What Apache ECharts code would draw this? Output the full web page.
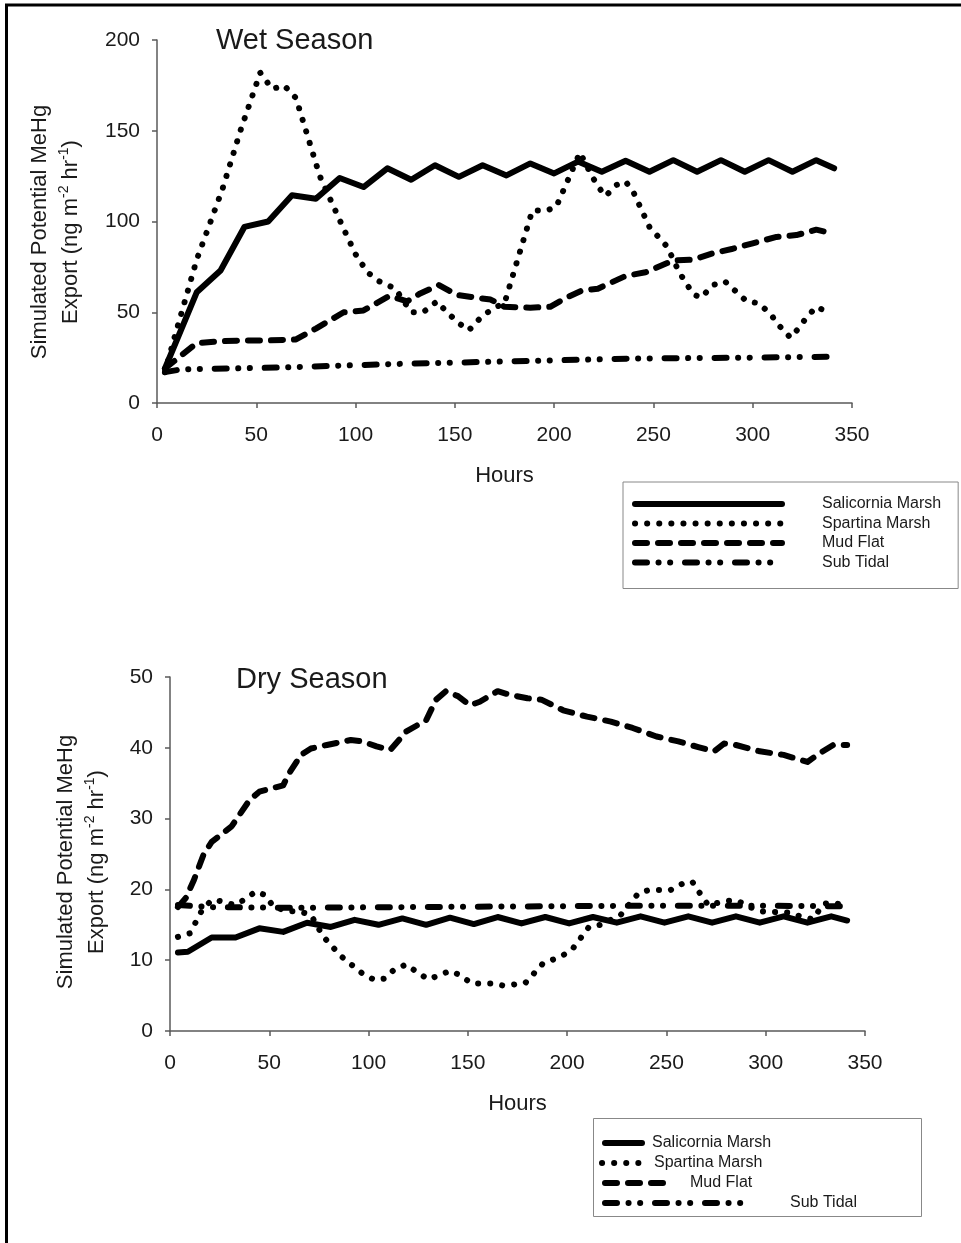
<!DOCTYPE html>
<html>
<head>
<meta charset="utf-8">
<title>Simulated Potential MeHg Export</title>
<script src="https://cdn.jsdelivr.net/npm/echarts@6/dist/echarts.min.js"></script>
<style>
  html, body { margin: 0; padding: 0; background: #fff; }
  #chart { width: 961px; height: 1243px; }
</style>
</head>
<body>
<div id="chart"></div>
<script>
// Series names shared by both panels
const seriesNames = ['Salicornia Marsh', 'Spartina Marsh', 'Mud Flat', 'Sub Tidal'];

// Wet season: [hour, ng m^-2 hr^-1]
const wetSalicornia = [[4,19],[20,61],[32,73],[44,97],[56,100],[68,114.5],[80,112.5],[92,124],[104,119],[116,129.3],[128,123],[140,131],[152,124.6],[164,131],[176,125.4],[188,132],[200,126.5],[212,133],[224,127.4],[236,133.5],[248,127.4],[260,133.8],[272,127.4],[284,133.8],[296,127.4],[308,133.8],[320,127.4],[332,133.8],[341,129.3]];
const wetSpartina = [[4,17],[8,33],[20,79],[33,118],[42,150],[52,182],[58,173],[64,175],[70,168],[82,125],[94,96],[100,82],[106,72],[112,67],[120,63],[128,50],[134,50],[141,56],[146,50],[152,44],[157,40],[163,47],[169,52],[175,55],[189,106],[196,106],[201,108],[213,138],[219,125],[223,118],[226,114],[231,120],[236,122],[240,116],[248,97],[257,86],[263,72],[270,60],[274,58],[280,65],[286,67],[291,62],[297,56],[303,55],[309,49],[313,43],[319,36],[323,41],[327,47],[332,53],[338,50]];
const wetMudFlat = [[4,19],[20,33],[32,34],[44,34.5],[56,34.5],[70,35],[80,41],[94,50],[104,51],[117,59],[126,56],[132,60],[142,65],[151,59.5],[168,57],[175,53],[188,52.5],[198,53],[206,58],[214,62],[222,63],[236,70],[246,72],[260,78.5],[270,79],[280,82.5],[290,85],[300,88],[312,91.5],[322,92.5],[332,95.5],[340,93.5]];
const wetSubTidal = [[4,17],[12,18.5],[60,19.5],[120,21.5],[180,23],[240,24.5],[300,25],[340,25.5]];

// Dry season: [hour, ng m^-2 hr^-1]
const drySalicornia = [[4,11.1],[9,11.2],[21,13.2],[33,13.2],[45,14.5],[57,14],[69,15.3],[81,14.7],[93,15.7],[105,15],[117,15.9],[129,15],[141,16],[153,15.1],[165,16.1],[177,15.2],[189,16.1],[201,15.2],[213,16.1],[225,15.3],[237,16.2],[249,15.3],[261,16.2],[273,15.3],[285,16.2],[297,15.3],[309,16.2],[321,15.3],[333,16.2],[341,15.6]];
const drySpartina = [[4,13.3],[10,13.8],[16,17],[21,18.5],[27,18.3],[32,17.8],[38,18.6],[43,19.7],[48,19.2],[52,17.6],[59,16.9],[65,16.9],[71,16.4],[77,13.4],[86,10.6],[97,8.1],[103,7.2],[108,7.4],[113,8.7],[119,9.4],[124,8.4],[130,7.3],[135,7.8],[141,8.5],[146,7.9],[152,6.7],[163,6.7],[168,6.4],[174,6.6],[179,6.8],[188,9.6],[193,10.1],[198,10.7],[203,11.7],[211,14.7],[217,15],[227,16.4],[236,19.5],[241,19.9],[252,19.9],[258,20.8],[263,21.1],[267,19.4],[271,17.8],[281,18.4],[286,18.4],[291,17.6],[298,16.9],[313,16.7],[318,16.1],[324,15.8],[329,18],[335,18.1],[341,17.5]];
const dryMudFlat = [[4,17.5],[8,18.8],[12,21.3],[17,25],[21,26.7],[31,28.9],[40,32.6],[45,33.8],[57,34.7],[60,36.4],[66,39],[71,39.9],[79,40.4],[91,41.1],[97,40.9],[104,40.2],[111,39.7],[119,42.3],[129,43.9],[134,46.8],[139,48],[145,47.3],[151,46],[156,46.5],[165,48],[171,47.5],[180,47],[187,46.8],[198,45.3],[210,44.4],[222,43.7],[233,42.8],[245,41.6],[256,40.9],[266,40.1],[274,39.5],[279,40.6],[285,40.4],[297,39.5],[309,39],[321,38],[327,39.2],[334,40.4],[341,40.4]];
const drySubTidal = [[4,17.8],[20,17.5],[60,17.4],[120,17.5],[180,17.6],[240,17.7],[300,17.7],[341,17.6]];

const FONT = "'Liberation Sans', Arial, sans-serif";
const INK = '#1a1a1a';
const AXIS_GRAY = '#5a5a5a';

// Line patterns: solid, round dots, dashes, dash-dot-dot
const dashTypes = {
  'Salicornia Marsh': 'solid',
  'Spartina Marsh': [0.1, 12],
  'Mud Flat': [12, 11],
  'Sub Tidal': [12, 11.5, 0.1, 11.5, 0.1, 14.8]
};

function lineSeries(name, data, gridIdx) {
  return {
    type: 'line',
    name: name,
    xAxisIndex: gridIdx,
    yAxisIndex: gridIdx,
    data: data,
    symbol: 'none',
    silent: true,
    lineStyle: { color: '#000', width: 6, type: dashTypes[name], cap: 'round', join: 'round' },
    itemStyle: { color: '#000' }
  };
}

const yName = 'Simulated Potential MeHg\nExport (ng m{sup|-2} hr{sup|-1})';

function xAxis(gridIdx) {
  return {
    gridIndex: gridIdx, type: 'value', min: 0, max: 350, interval: 50,
    name: 'Hours', nameLocation: 'middle', nameGap: 62,
    nameTextStyle: { fontFamily: FONT, fontSize: 22, color: INK },
    axisLine: { show: true, lineStyle: { color: AXIS_GRAY, width: 1.5 } },
    axisTick: { show: true, length: 5, lineStyle: { color: AXIS_GRAY, width: 1.5 } },
    axisLabel: { fontFamily: FONT, fontSize: 21, color: INK, margin: 22 },
    splitLine: { show: false }
  };
}

function yAxis(gridIdx, max, interval, gap, shift) {
  return {
    gridIndex: gridIdx, type: 'value', min: 0, max: max, interval: interval,
    name: yName, nameLocation: 'middle', nameRotate: 90, nameGap: gap,
    nameTextStyle: {
      fontFamily: FONT, fontSize: 22, color: INK, lineHeight: 31, align: 'center',
      padding: [0, shift, 0, 0],
      rich: { sup: { fontFamily: FONT, fontSize: 14, color: INK, verticalAlign: 'top', padding: [2, 0, 0, 0] } }
    },
    axisLine: { show: true, lineStyle: { color: AXIS_GRAY, width: 1.5 } },
    axisTick: { show: true, length: 5, lineStyle: { color: AXIS_GRAY, width: 1.5 } },
    axisLabel: { fontFamily: FONT, fontSize: 21, color: INK, margin: 17 },
    splitLine: { show: false }
  };
}

const legendText = { fontFamily: FONT, fontSize: 16, color: INK, lineHeight: 18 };

// Lower panel key: one legend per row so each swatch keeps its own length
const dryKeyRows = [
  { name: 'Salicornia Marsh', left: 602, top: 1134, width: 37, pad: 5 },
  { name: 'Spartina Marsh', left: 599, top: 1154, width: 40, pad: 7 },
  { name: 'Mud Flat', left: 602, top: 1174, width: 60, pad: 20 },
  { name: 'Sub Tidal', left: 602, top: 1194, width: 137, pad: 43 }
];

const chart = echarts.init(document.getElementById('chart'), null, { renderer: 'canvas' });

chart.setOption({
  animation: false,
  backgroundColor: '#fff',
  title: [
    { text: 'Wet Season', left: 211, top: 21, textStyle: { fontFamily: FONT, fontSize: 29, fontWeight: 'normal', color: INK } },
    { text: 'Dry Season', left: 231, top: 660, textStyle: { fontFamily: FONT, fontSize: 29, fontWeight: 'normal', color: INK } }
  ],
  grid: [
    { left: 157, top: 40, width: 695, height: 363 },
    { left: 170, top: 677, width: 695, height: 354 }
  ],
  xAxis: [xAxis(0), xAxis(1)],
  yAxis: [yAxis(0, 200, 50, 71, 21), yAxis(1, 50, 10, 58, 16)],
  legend: [
    {
      orient: 'vertical', left: 623, top: 482,
      data: seriesNames,
      itemWidth: 147, itemHeight: 12, itemGap: 1.5,
      padding: [13, 17, 17, 9],
      borderColor: '#888', borderWidth: 1,
      selectedMode: false,
      textStyle: Object.assign({ padding: [0, 0, 0, 35] }, legendText),
      lineStyle: { width: 6 },
      itemStyle: { opacity: 0 }
    }
  ].concat(dryKeyRows.map(r => ({
    orient: 'vertical', left: r.left, top: r.top, padding: 0,
    data: [r.name], itemWidth: r.width, itemHeight: 12,
    selectedMode: false,
    textStyle: Object.assign({ padding: [0, 0, 0, r.pad] }, legendText),
    lineStyle: { width: 6 },
    itemStyle: { opacity: 0 }
  }))),
  graphic: [
    // lower key frame
    { type: 'rect', silent: true, shape: { x: 593.5, y: 1118.5, width: 328, height: 98 },
      style: { fill: 'none', stroke: '#888', lineWidth: 1 } },
    // figure frame: left and top edges
    { type: 'polyline', silent: true, shape: { points: [[6.5, 1243], [6.5, 5], [961, 5]] },
      style: { fill: 'none', stroke: '#000', lineWidth: 3 } }
  ],
  series: [
    lineSeries('Sub Tidal', wetSubTidal, 0),
    lineSeries('Mud Flat', wetMudFlat, 0),
    lineSeries('Spartina Marsh', wetSpartina, 0),
    lineSeries('Salicornia Marsh', wetSalicornia, 0),
    lineSeries('Sub Tidal', drySubTidal, 1),
    lineSeries('Mud Flat', dryMudFlat, 1),
    lineSeries('Spartina Marsh', drySpartina, 1),
    lineSeries('Salicornia Marsh', drySalicornia, 1)
  ]
});
</script>
</body>
</html>
